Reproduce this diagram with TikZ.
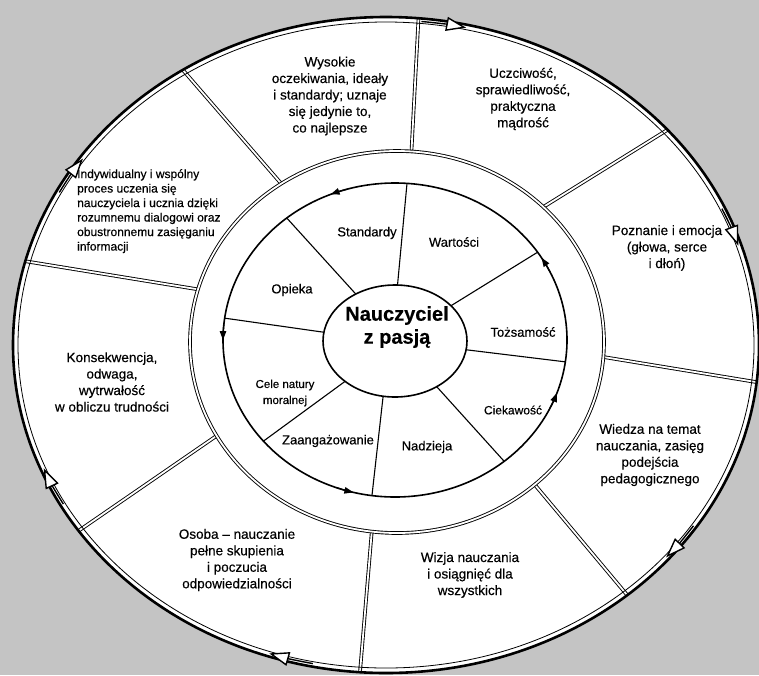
\documentclass[tikz,border=0pt]{standalone}
\usepackage{fontspec}
\setmainfont{Liberation Sans}[FakeBold=0.4]
\definecolor{scangray}{RGB}{196, 196, 196}
\usepackage{tikz}
\usetikzlibrary{arrows.meta, calc}

\begin{document}
\begin{tikzpicture}[x=1pt, y=-1pt,
  dbl/.style={draw=black, line width=0.9pt, double=white, double distance=1.8pt},
  spoke/.style={draw=black, line width=1.1pt},
  outerlbl/.style={font=\fontsize{13.5}{16.5}\selectfont, align=center, inner sep=0pt},
  innerlbl/.style={font=\fontsize{13}{16}\selectfont, align=center, inner sep=0pt},
  cwtip/.style={line width=1.4pt, -{Triangle[fill=white, length=20pt, width=14pt]}},
  ccwtip/.style={line width=1.2pt, -{Triangle[length=9pt, width=6.5pt]}}]

  % Scan background
  \fill[scangray] (0, 0) rectangle (759, 675);
  \useasboundingbox (0, 0) rectangle (759, 675);

  % Centres of the four rings
  \coordinate (o) at (386, 345);
  \coordinate (r) at (397, 342);
  \coordinate (i) at (395, 340);
  \coordinate (c) at (395, 341);

  \fill[white] (o) ellipse [x radius=373, y radius=328];

  % Outer sectors
  \draw[dbl] ($(r)+(-86:207 and 191)$) -- ($(o)+(-85:373 and 328)$);
  \draw[dbl] ($(r)+(-45:207 and 191)$) -- ($(o)+(-41:373 and 328)$);
  \draw[dbl] ($(r)+(4.5:207 and 191)$) -- ($(o)+(6.5:373 and 328)$);
  \draw[dbl] ($(r)+(48.3:207 and 191)$) -- ($(o)+(49.7:373 and 328)$);
  \draw[dbl] ($(r)+(97:207 and 191)$) -- ($(o)+(94:373 and 328)$);
  \draw[dbl] ($(r)+(150.6:207 and 191)$) -- ($(o)+(145.5:373 and 328)$);
  \draw[dbl] ($(r)+(196:207 and 191)$) -- ($(o)+(194.8:373 and 328)$);
  \draw[dbl] ($(r)+(236:207 and 191)$) -- ($(o)+(237:373 and 328)$);

  % Outer border
  \draw[line width=2.6pt] (o) ellipse [x radius=373, y radius=328];
  \draw[line width=0.8pt] (o) ellipse [x radius=368, y radius=323];
  \foreach \t in {-77.5, -17.8, 40.8, 108.4, 157.7, 215}
    \draw[cwtip] ($(o)+(\t-7:370 and 325)$) arc [start angle=\t-7, end angle=\t, x radius=370, y radius=325];

  \draw[dbl] (r) ellipse [x radius=207, y radius=191];

  % Inner sectors
  \draw[spoke] ($(c)+(-88:72 and 56)$) -- ($(i)+(-86:172 and 157)$);
  \draw[spoke] ($(c)+(-39:72 and 56)$) -- ($(i)+(-34:172 and 157)$);
  \draw[spoke] ($(c)+(9:72 and 56)$) -- ($(i)+(8:172 and 157)$);
  \draw[spoke] ($(c)+(54.6:72 and 56)$) -- ($(i)+(50.6:172 and 157)$);
  \draw[spoke] ($(c)+(99.5:72 and 56)$) -- ($(i)+(97.7:172 and 157)$);
  \draw[spoke] ($(c)+(133.9:72 and 56)$) -- ($(i)+(139.9:172 and 157)$);
  \draw[spoke] ($(c)+(189:72 and 56)$) -- ($(i)+(188:172 and 157)$);
  \draw[spoke] ($(c)+(237:72 and 56)$) -- ($(i)+(231:172 and 157)$);

  \draw[line width=1.6pt] (i) ellipse [x radius=172, y radius=157];
  \foreach \t in {248, -31.6, 19.7, 180, 104}
    \draw[ccwtip] ($(i)+(\t+6:172 and 157)$) arc [start angle=\t+6, end angle=\t, x radius=172, y radius=157];

  \draw[line width=1.6pt, fill=white] (c) ellipse [x radius=72, y radius=56];

  % Centre
  \node[font=\fontsize{20}{23}\selectfont\bfseries, align=center, inner sep=0pt] (pasja) at (397, 327) {Nauczyciel\\z pasją};

  % Inner labels
  \node[innerlbl] (standardy) at (367, 233) {Standardy};
  \node[innerlbl] (wartosci) at (454, 242) {Wartości};
  \node[innerlbl] (tozsamosc) at (523, 332) {Tożsamość};
  \node[innerlbl, font=\fontsize{12}{15}\selectfont] (ciekawosc) at (513, 410) {Ciekawość};
  \node[innerlbl] (nadzieja) at (427, 447) {Nadzieja};
  \node[innerlbl] (zaangazowanie) at (328, 441) {Zaangażowanie};
  \node[innerlbl, font=\fontsize{11.5}{16}\selectfont] (cele) at (285, 393) {Cele natury\\moralnej};
  \node[innerlbl] (opieka) at (292, 290) {Opieka};

  % Outer labels
  \node[outerlbl] (wysokie) at (330, 96) {Wysokie\\oczekiwania, ideały\\i standardy; uznaje\\się jedynie to,\\co najlepsze};
  \node[outerlbl] (uczciwosc) at (523, 99) {Uczciwość,\\sprawiedliwość,\\praktyczna\\mądrość};
  \node[outerlbl] (poznanie) at (667, 248) {Poznanie i emocja\\(głowa, serce\\i dłoń)};
  \node[outerlbl] (wiedza) at (650, 455) {Wiedza na temat\\nauczania, zasięg\\podejścia\\pedagogicznego};
  \node[outerlbl] (wizja) at (470, 575) {Wizja nauczania\\i osiągnięć dla\\wszystkich};
  \node[outerlbl] (osoba) at (237, 560) {Osoba -- nauczanie\\pełne skupienia\\i poczucia\\odpowiedzialności};
  \node[outerlbl] (konsekwencja) at (112, 382) {Konsekwencja,\\odwaga,\\wytrwałość\\w obliczu trudności};
  \node[outerlbl, font=\fontsize{12}{14.5}\selectfont, align=left, anchor=north west] (proces) at (77, 169) {Indywidualny i wspólny\\proces uczenia się\\nauczyciela i ucznia dzięki\\rozumnemu dialogowi oraz\\obustronnemu zasięganiu\\informacji};
\end{tikzpicture}
\end{document}
